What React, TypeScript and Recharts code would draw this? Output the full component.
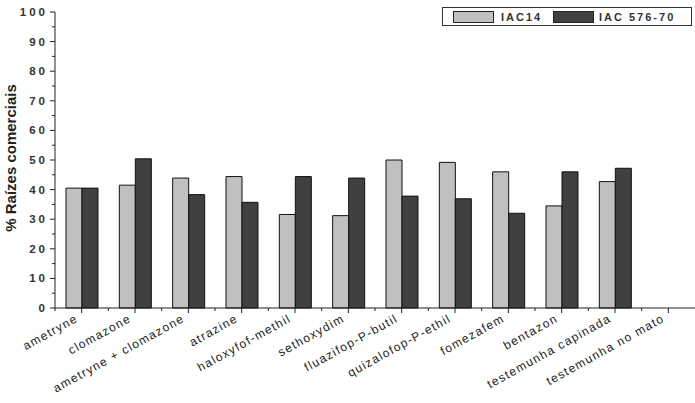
import React from "react";
import { BarChart, Bar, XAxis, YAxis } from "recharts";

const categories = [
  "ametryne",
  "clomazone",
  "ametryne + clomazone",
  "atrazine",
  "haloxyfof-methil",
  "sethoxydim",
  "fluazifop-P-butil",
  "quizalofop-P-ethil",
  "fomezafem",
  "bentazon",
  "testemunha capinada",
  "testemunha no mato",
];
const iac14 = [40.5, 41.5, 43.9, 44.4, 31.6, 31.2, 50.0, 49.2, 46.0, 34.5, 42.7, null];
const iac57670 = [40.5, 50.4, 38.3, 35.7, 44.4, 43.9, 37.8, 36.9, 32.0, 46.0, 47.2, null];
const yTicks = [0, 5, 10, 15, 20, 25, 30, 35, 40, 45, 50, 55, 60, 65, 70, 75, 80, 85, 90, 95, 100];

const data = categories.map((name, i) => ({ name, iac14: iac14[i], iac57670: iac57670[i] }));

const LIGHT = "#c0c0c0";
const DARK = "#404040";
const AXIS = "#222";
const FONT = "Arial, 'Liberation Sans', sans-serif";

function XTick(props: any) {
  const { x, y, payload } = props;
  const half = payload.offset || 26.7;
  return (
    <g>
      <line x1={x} y1={y} x2={x} y2={y + 5} stroke={AXIS} />
      <line x1={x - half} y1={y} x2={x - half} y2={y + 3} stroke={AXIS} />
      <text
        x={x - 3}
        y={y + 13}
        transform={`rotate(-29 ${x - 3} ${y + 13})`}
        textAnchor="end"
        fontFamily={FONT}
        fontSize={12}
        letterSpacing={1.3}
        fill="#222"
      >
        {payload.value}
      </text>
    </g>
  );
}

function YTick(props: any) {
  const { x, y, payload } = props;
  const major = payload.value % 10 === 0;
  return (
    <g>
      <line x1={x - (major ? 5 : 3)} y1={y} x2={x} y2={y} stroke={AXIS} />
      {major && (
        <text
          x={x - 7}
          y={y + 4}
          textAnchor="end"
          fontFamily={FONT}
          fontSize={11.5}
          fontWeight="bold"
          letterSpacing={3}
          fill="#333"
        >
          {payload.value}
        </text>
      )}
    </g>
  );
}

function YLabel() {
  return (
    <text
      x={16}
      y={158}
      transform="rotate(-90 16 158)"
      textAnchor="middle"
      fontFamily={FONT}
      fontSize={15}
      fontWeight="bold"
      fill="#222"
    >
      % Raízes comerciais
    </text>
  );
}

function LegendBox() {
  const swatch = (color: string) => ({
    display: "inline-block",
    width: 41,
    height: 12,
    background: color,
    border: "1px solid #222",
    boxSizing: "border-box" as const,
  });
  const label = {
    fontFamily: FONT,
    fontSize: 11,
    fontWeight: "bold" as const,
    letterSpacing: 2,
    color: "#333",
  };
  return (
    <div
      style={{
        position: "absolute",
        left: 442,
        top: 7,
        width: 250,
        height: 19,
        border: "1px solid #333",
        boxSizing: "border-box",
        background: "#fff",
        display: "flex",
        alignItems: "center",
        paddingLeft: 10,
      }}
    >
      <span style={swatch(LIGHT)} />
      <span style={{ ...label, marginLeft: 7, width: 52 }}>IAC14</span>
      <span style={swatch(DARK)} />
      <span style={{ ...label, marginLeft: 5 }}>IAC 576-70</span>
    </div>
  );
}

export default function App() {
  return (
    <div style={{ position: "absolute", left: 0, top: 0, width: 695, height: 403, background: "#fff" }}>
      <BarChart
        width={695}
        height={403}
        data={data}
        margin={{ top: 12, right: 0, left: 0, bottom: 0 }}
        barGap={0}
      >
        <XAxis
          dataKey="name"
          height={95}
          interval={0}
          tickLine={false}
          tickSize={0}
          tickMargin={0}
          stroke={AXIS}
          tick={<XTick />}
        />
        <YAxis
          width={55}
          domain={[0, 100]}
          ticks={yTicks}
          interval={0}
          tickLine={false}
          tickSize={0}
          tickMargin={0}
          stroke={AXIS}
          tick={<YTick />}
          label={<YLabel />}
        />
        <Bar dataKey="iac14" name="IAC14" fill={LIGHT} stroke="#111" barSize={16} isAnimationActive={false} />
        <Bar dataKey="iac57670" name="IAC 576-70" fill={DARK} stroke="#111" barSize={16} isAnimationActive={false} />
      </BarChart>
      <LegendBox />
    </div>
  );
}
